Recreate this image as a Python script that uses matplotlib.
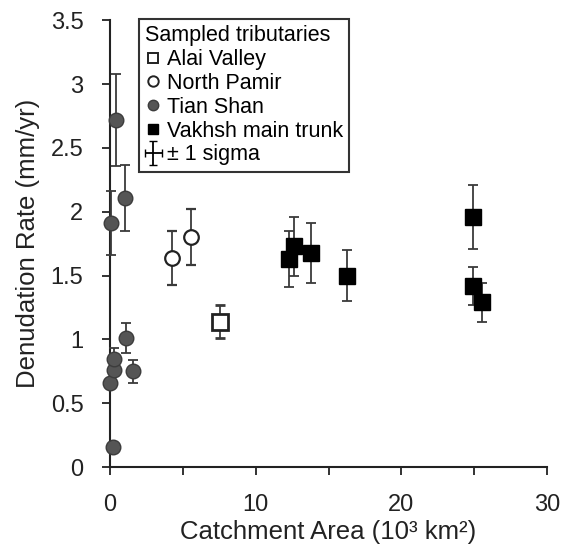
import numpy as np
import matplotlib.pyplot as plt
from matplotlib.legend_handler import HandlerErrorbar

plt.rcParams['font.family'] = ['Liberation Sans', 'DejaVu Sans']

# Tian Shan tributaries
ts_area = [0.05, 0.4, 1.05, 0.2, 0.0, 0.3, 0.3, 1.1, 1.6]
ts_rate = [1.91, 2.72, 2.11, 0.16, 0.66, 0.76, 0.85, 1.01, 0.75]
ts_err = [0.25, 0.36, 0.26, 0.0, 0.0, 0.0, 0.08, 0.12, 0.09]

# North Pamir tributaries
np_area = [4.3, 5.55]
np_rate = [1.64, 1.80]
np_err = [0.21, 0.22]

# Alai Valley
av_area = [7.55]
av_rate = [1.14]
av_err = [0.13]

# Vakhsh main trunk
vk_area = [12.3, 12.6, 13.8, 16.3, 24.9, 24.9, 25.5]
vk_rate = [1.63, 1.73, 1.68, 1.50, 1.96, 1.42, 1.29]
vk_err = [0.22, 0.23, 0.235, 0.2, 0.25, 0.15, 0.15]

fig = plt.figure(figsize=(5.63, 5.47), dpi=100)
ax = fig.add_axes([0.195, 0.146, 0.777, 0.817])

ecol = '#3a3a3a'
kw = dict(ecolor=ecol, elinewidth=1.3, capsize=3.5, capthick=1.3, zorder=3)
for series in [
    (ts_area, ts_rate, ts_err, dict(fmt='o', ms=10.5, mfc='#555555', mec='#3c3c3c')),
    (np_area, np_rate, np_err, dict(fmt='o', ms=10.5, mfc='white', mec='#222222', mew=1.6)),
    (av_area, av_rate, av_err, dict(fmt='s', ms=11, mfc='white', mec='#222222', mew=2.0)),
    (vk_area, vk_rate, vk_err, dict(fmt='s', ms=12, mfc='black', mec='black')),
]:
    x, y, e, st = series
    c = ax.errorbar(x, y, yerr=e, **st, **kw)
    for art in [c[0], *c[1], *c[2]]:
        art.set_clip_on(False)

# legend handles
h_av, = ax.plot([], [], 's', ms=6.5, mfc='white', mec='#222222', mew=1.4)
h_np, = ax.plot([], [], 'o', ms=7.5, mfc='white', mec='#222222', mew=1.4)
h_ts, = ax.plot([], [], 'o', ms=7.5, mfc='#555555', mec='#3c3c3c')
h_vk, = ax.plot([], [], 's', ms=6.5, mfc='black', mec='black')
h_sig = ax.errorbar([np.nan], [np.nan], xerr=[1], yerr=[1], fmt='none',
                    ecolor='black', elinewidth=1.3, capsize=3)

leg = ax.legend([h_av, h_np, h_ts, h_vk, h_sig],
                ['Alai Valley', 'North Pamir', 'Tian Shan', 'Vakhsh main trunk', '± 1 sigma'],
                title='Sampled tributaries', loc='upper left',
                bbox_to_anchor=(0.066, 1.003), fontsize=15.5, title_fontsize=15.5,
                frameon=True, fancybox=False, handlelength=0.75, handletextpad=0.25,
                borderpad=0.3, labelspacing=0.13, borderaxespad=0.0,
                handler_map={type(h_sig): HandlerErrorbar(xerr_size=0.4, yerr_size=0.55)})
leg._legend_box.align = 'left'
leg.get_frame().set_edgecolor('black')
leg.get_frame().set_linewidth(1.5)

ax.set_xlim(0, 30)
ax.set_ylim(0, 3.5)
ax.set_xticks([0, 10, 20, 30])
ax.set_xticks([5, 15, 25], minor=True)
ax.set_yticks(np.arange(0, 3.51, 0.5))
ax.set_yticklabels(['0', '0.5', '1', '1.5', '2', '2.5', '3', '3.5'])
ax.tick_params(axis='both', labelsize=17, direction='out', length=6, width=1.3,
               color='#222222', labelcolor='#222222')
ax.tick_params(axis='x', which='minor', direction='out', length=6, width=1.3, color='#222222')
ax.tick_params(axis='x', pad=13)
ax.tick_params(axis='y', pad=13)

for s in ['top', 'right']:
    ax.spines[s].set_visible(False)
for s in ['left', 'bottom']:
    ax.spines[s].set_linewidth(1.5)
    ax.spines[s].set_color('#222222')

ax.set_xlabel('Catchment Area (10³ km²)', fontsize=18.5, labelpad=3, color='#222222')
ax.set_ylabel('Denudation Rate (mm/yr)', fontsize=18.5, labelpad=8, color='#222222')

fig.savefig('out.png', dpi=100)
